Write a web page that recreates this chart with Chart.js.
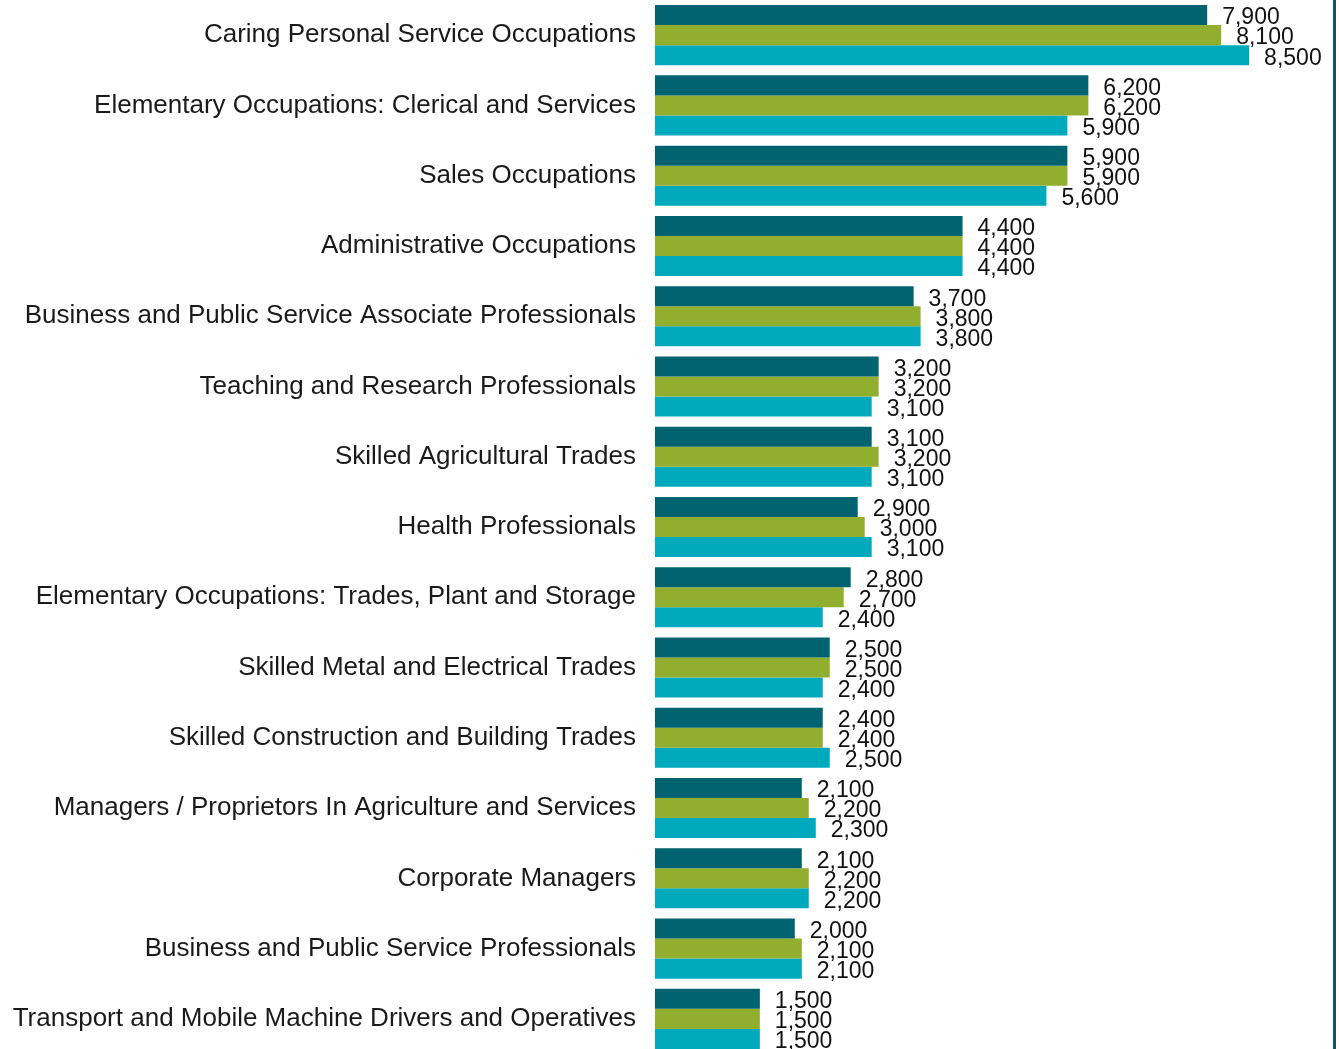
<!DOCTYPE html>
<html>
<head>
<meta charset="utf-8">
<script src="https://cdn.jsdelivr.net/npm/chart.js@4"></script>
<style>
  html, body { margin: 0; padding: 0; background: #fff; overflow: hidden; }
  #wrap { width: 1339px; height: 1054px; position: relative; }
</style>
</head>
<body>
<div id="wrap"><canvas id="chart"></canvas></div>
<script>
// occupations, top to bottom
const occupations = [
  'Caring Personal Service Occupations',
  'Elementary Occupations: Clerical and Services',
  'Sales Occupations',
  'Administrative Occupations',
  'Business and Public Service Associate Professionals',
  'Teaching and Research Professionals',
  'Skilled Agricultural Trades',
  'Health Professionals',
  'Elementary Occupations: Trades, Plant and Storage',
  'Skilled Metal and Electrical Trades',
  'Skilled Construction and Building Trades',
  'Managers / Proprietors In Agriculture and Services',
  'Corporate Managers',
  'Business and Public Service Professionals',
  'Transport and Mobile Machine Drivers and Operatives',
];

// three series, same order
const seriesA = [7900, 6200, 5900, 4400, 3700, 3200, 3100, 2900, 2800, 2500, 2400, 2100, 2100, 2000, 1500];
const seriesB = [8100, 6200, 5900, 4400, 3800, 3200, 3200, 3000, 2700, 2500, 2400, 2200, 2200, 2100, 1500];
const seriesC = [8500, 5900, 5600, 4400, 3800, 3100, 3100, 3100, 2400, 2400, 2500, 2300, 2200, 2100, 1500];

const FONT = '"Liberation Sans", Arial, sans-serif';

// value labels after each bar + right border line
const valueLabels = {
  id: 'valueLabels',
  afterDatasetsDraw(chart) {
    const ctx = chart.ctx;
    ctx.save();
    ctx.font = '23px ' + FONT;
    ctx.fillStyle = '#111';
    ctx.textAlign = 'left';
    ctx.textBaseline = 'middle';
    chart.data.datasets.forEach((ds, i) => {
      const meta = chart.getDatasetMeta(i);
      meta.data.forEach((bar, j) => {
        ctx.fillText(ds.data[j].toLocaleString('en-US'), bar.x + 15, bar.y + 3);
      });
    });
    const a = chart.chartArea;
    ctx.strokeStyle = '#0d5663';
    ctx.lineWidth = 3;
    ctx.beginPath();
    ctx.moveTo(a.right + 1.5, 0);
    ctx.lineTo(a.right + 1.5, chart.height);
    ctx.stroke();
    ctx.restore();
  }
};

new Chart(document.getElementById('chart'), {
  type: 'bar',
  data: {
    labels: occupations,
    datasets: [
      { label: 'Series 1', data: seriesA, backgroundColor: '#01636f' },
      { label: 'Series 2', data: seriesB, backgroundColor: '#92ae2e' },
      { label: 'Series 3', data: seriesC, backgroundColor: '#00a9bc' },
    ],
  },
  options: {
    indexAxis: 'y',
    responsive: true,
    maintainAspectRatio: false,
    animation: false,
    devicePixelRatio: 1,
    layout: { padding: { left: 0, right: 6, top: 0, bottom: 0 } },
    datasets: { bar: { categoryPercentage: 0.855, barPercentage: 1.0, borderWidth: 0 } },
    plugins: {
      legend: { display: false },
      tooltip: { enabled: false },
    },
    scales: {
      x: {
        min: 0,
        max: 9700,
        display: false,
        grid: { display: false },
      },
      y: {
        grid: { display: false, drawTicks: false },
        border: { display: false },
        ticks: {
          color: '#1a1a1a',
          font: { family: FONT, size: 26 },
          padding: 19,
          autoSkip: false,
        },
        afterFit(scale) {
          scale.width = 655;
          scale.paddingTop = 0;
          scale.paddingBottom = 0;
        },
      },
    },
  },
  plugins: [valueLabels],
});
</script>
</body>
</html>
